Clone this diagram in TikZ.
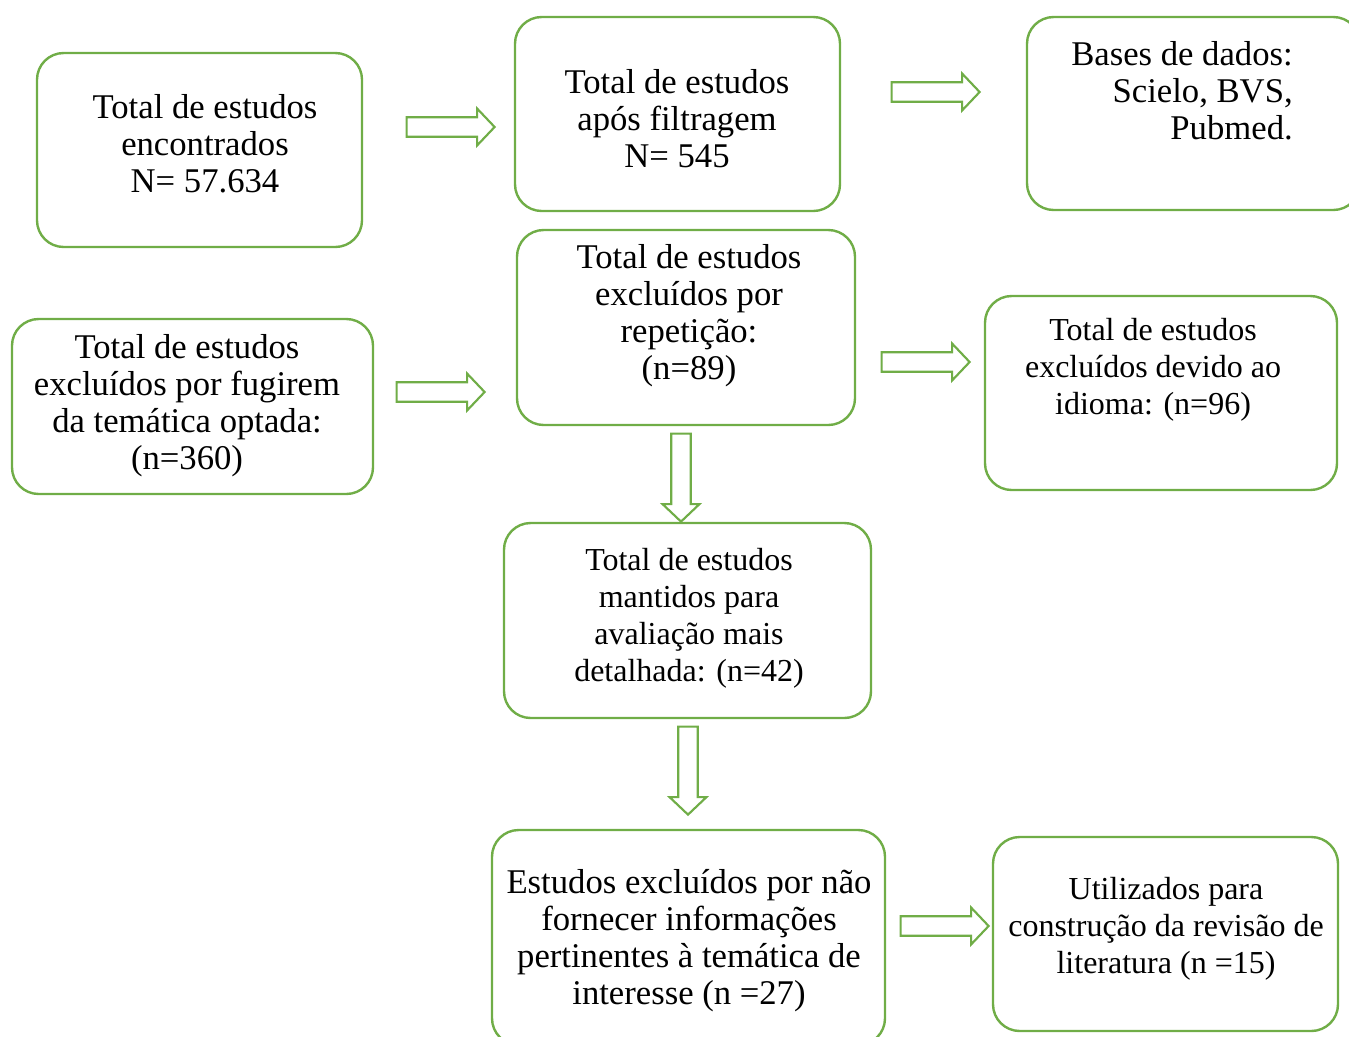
\documentclass[tikz,border=0pt]{standalone}
\usepackage{fontspec}
\setmainfont{Liberation Serif}
\usetikzlibrary{shapes.arrows}
\definecolor{boxgreen}{HTML}{70AD47}
\tikzset{
  box/.style={draw=boxgreen,line width=1.8pt,rounded corners=20pt,inner sep=0pt},
  txt/.style={align=center,inner sep=0pt,font=\fontsize{26}{27.75}\selectfont},
  smalltxt/.style={align=center,inner sep=0pt,font=\fontsize{24}{27.75}\selectfont},
  blockarrow/.style={single arrow,draw=boxgreen,fill=white,line width=1.6pt,
    minimum height=66pt,inner xsep=0pt,inner ysep=6.5pt,single arrow head extend=6.5pt,
    single arrow tip angle=93,outer sep=0pt},
  downarrow/.style={blockarrow,shape border rotate=270,inner xsep=6.5pt,inner ysep=0pt}
}
\begin{document}
\begin{tikzpicture}[x=0.75pt,y=-0.75pt]
  \useasboundingbox (0,0) rectangle (1349,1036);
  % --- boxes
  \draw[box] (37,53) rectangle (362,247) node[pos=0.5] (found) {};
  \draw[box] (515,17) rectangle (840,211) node[pos=0.5] (filt) {};
  \draw[box] (1027,17) rectangle (1360,210) node[pos=0.5] (bases) {};
  \draw[box] (517,230) rectangle (855,425) node[pos=0.5] (rep) {};
  \draw[box] (12,319) rectangle (373,494) node[pos=0.5] (theme) {};
  \draw[box] (985,296) rectangle (1337,490) node[pos=0.5] (lang) {};
  \draw[box] (504,523) rectangle (871,718) node[pos=0.5] (kept) {};
  \draw[box] (492,830) rectangle (885,1045) node[pos=0.5] (info) {};
  \draw[box] (993,837) rectangle (1338,1031) node[pos=0.5] (used) {};
  % --- texts
  \node[txt] (foundT) at (205,144) {Total de estudos\\encontrados\\N= 57.634};
  \node[txt] (filtT) at (677,119) {Total de estudos\\após filtragem\\N= 545};
  \node[txt,align=right,anchor=east] (basesT) at (1293,91) {Bases de dados:\\Scielo, BVS,\\Pubmed.};
  \node[txt] (repT) at (689,316) {Total de estudos\\excluídos por\\repetição:\\(n=89)};
  \node[txt] (themeT) at (187,406) {Total de estudos\\excluídos por fugirem\\da temática optada:\\(n=360)};
  \node[smalltxt] (langT) at (1153,370) {Total de estudos\\excluídos devido ao\\idioma: (n=96)};
  \node[smalltxt] (keptT) at (689,618) {Total de estudos\\mantidos para\\avaliação mais\\detalhada: (n=42)};
  \node[txt] (infoT) at (689,941) {Estudos excluídos por não\\fornecer informações\\pertinentes à temática de\\interesse (n =27)};
  \node[smalltxt] (usedT) at (1166,929) {Utilizados para\\construção da revisão de\\literatura (n =15)};
  % --- block arrows
  \node[blockarrow] (a1) at (446,127) {};
  \node[blockarrow] (a2) at (931,92) {};
  \node[blockarrow] (a3) at (436,392) {};
  \node[blockarrow] (a4) at (921,362) {};
  \node[downarrow] (a5) at (681,473) {};
  \node[downarrow] (a6) at (688,766) {};
  \node[blockarrow] (a7) at (940,926) {};
\end{tikzpicture}
\end{document}
